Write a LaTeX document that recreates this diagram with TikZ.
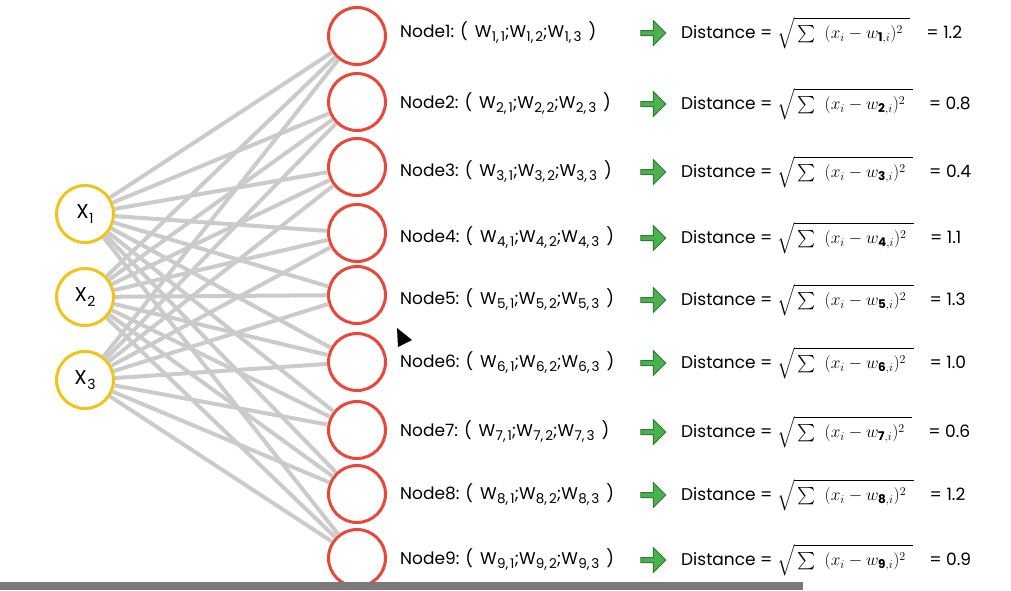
\documentclass[tikz,border=0pt]{standalone}
\usepackage{amsmath}
\usepackage{fontspec}
\setmainfont{Poppins}
\usetikzlibrary{shapes.arrows}
\definecolor{inyellow}{HTML}{F0C419}
\definecolor{outred}{HTML}{E8473A}
\definecolor{edgegray}{HTML}{CBCBCB}
\definecolor{arrowgreen}{HTML}{4CAF50}
\definecolor{arrowdark}{HTML}{2E7D32}
\definecolor{bargray}{HTML}{7A7A7A}
\newcommand{\wsub}[2]{W\kern0.3pt\raisebox{-4pt}{\fontsize{13.5}{13}\selectfont #1,\kern2pt#2}}
\newcommand{\xsub}[1]{X\kern0.5pt\raisebox{-5pt}{\fontsize{14}{14}\selectfont #1}}
\tikzset{
  innode/.style={circle, draw=inyellow, line width=3pt, fill=white, minimum size=57pt, inner sep=0pt, font=\fontsize{20}{22}\selectfont},
  outnode/.style={circle, draw=outred, line width=3pt, fill=white, minimum size=57pt, inner sep=0pt},
  weightlabel/.style={anchor=west, inner sep=0pt, font=\fontsize{17}{20}\selectfont},
  nextarrow/.style={single arrow, draw=arrowdark, fill=arrowgreen, line width=1pt, minimum height=25pt, minimum width=25pt, single arrow head extend=2pt, inner sep=0pt},
  link/.style={draw=edgegray, line width=4pt},
}
\begin{document}
\begin{tikzpicture}[x=1pt, y=-1pt]
	\useasboundingbox[fill=white] (0,0) rectangle (1011,590);
	
	% inputs
	\node[innode] (X1) at (85,214) {\xsub{1}};
	\node[innode] (X2) at (85,297) {\xsub{2}};
	\node[innode] (X3) at (85,380) {\xsub{3}};
	
	% output nodes with their weights and distances
	\foreach \n/\yc/\yt/\d in {1/36/33/1.2, 2/102/104/0.8, 3/167/172/0.4, 4/233/238/1.1, 5/295/300/1.3, 6/362/363/1.0, 7/430/432/0.6, 8/494/495/1.2, 9/558/560/0.9} {
		\node[outnode] (N\n) at (357,\yc) {};
		\node[weightlabel] (W\n) at (400,\yt) {Node\n: (\kern7pt\wsub{\n}{1};\wsub{\n}{2};\wsub{\n}{3}\kern7pt)};
		\node[nextarrow] (A\n) at (652,\yt) {};
		\node[weightlabel] (D\n) at (681,\yt) {Distance = {\fontsize{17.28}{20}\selectfont$\sqrt{\vphantom{\big(}\sum\ \ (x_i-w_{\mathbf{\n},i})^2\ \,}$}\hspace{16pt}= \d};
	}
	
	% links
	\foreach \i in {1,2,3} {
		\foreach \n in {1,...,9} {
			\draw[link] (X\i) -- (N\n);
		}
	}
	
	% bar and pointer
	\fill[bargray] (0,582) rectangle (803,590);
	\fill[black] (397,328) -- (398,347) -- (412,340) -- cycle;
	
\end{tikzpicture}
\end{document}
